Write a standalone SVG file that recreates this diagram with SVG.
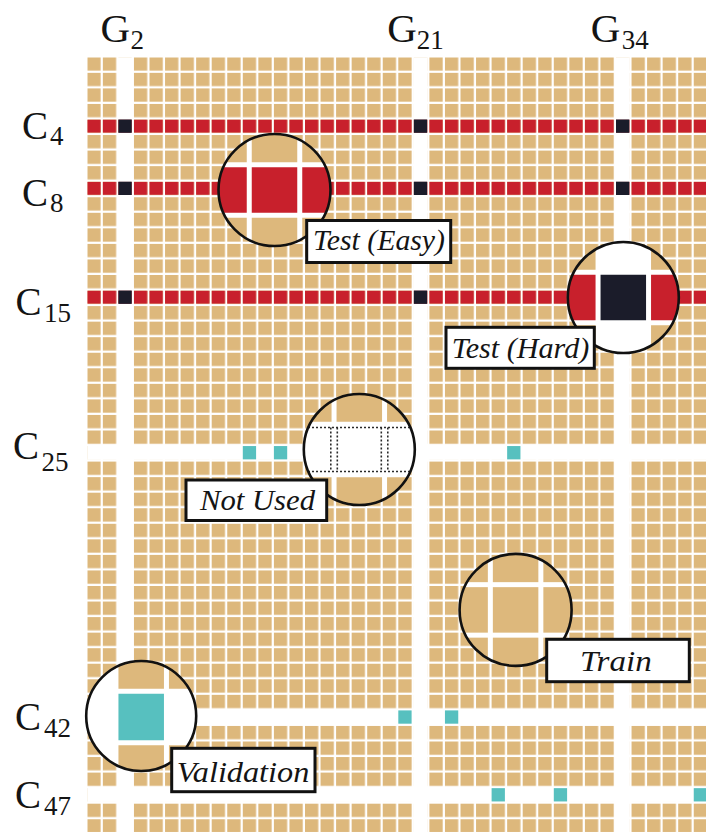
<svg xmlns="http://www.w3.org/2000/svg" width="706" height="832" viewBox="0 0 706 832">
<style>
.ax{font-family:"Liberation Serif","DejaVu Serif",serif;font-size:41px;fill:#141414}
.axc{font-family:"Liberation Serif","DejaVu Serif",serif;font-size:39px;fill:#141414}
.sub{font-family:"Liberation Serif","DejaVu Serif",serif;font-size:27px;fill:#141414}
.lab{font-family:"Liberation Serif","DejaVu Serif",serif;font-style:italic;font-size:30px;fill:#141414}
.box{fill:#fff;stroke:#111;stroke-width:3}
.ring{fill:none;stroke:#111;stroke-width:2.6}
.tan{fill:#DDB87C}
.red{fill:#C8202C}
.blk{fill:#1B1C2A}
.teal{fill:#57C0BF}
.wht{fill:#fff}
.dot{stroke:#2a2a2a;stroke-width:1.6;stroke-dasharray:2 2;fill:none}
</style>
<defs>
<pattern id="pTan" x="87.3" y="57.3" width="15.55" height="15.55" patternUnits="userSpaceOnUse"><rect width="13.3" height="13.3" fill="#DDB87C"/></pattern>
<pattern id="pRed" x="87.3" y="57.3" width="15.55" height="15.55" patternUnits="userSpaceOnUse"><rect width="13.3" height="13.3" fill="#C8202C"/></pattern>
<clipPath id="cEasy"><circle cx="274.5" cy="190" r="56"/></clipPath>
<clipPath id="cHard"><circle cx="623.3" cy="297.5" r="55.5"/></clipPath>
<clipPath id="cNot"><circle cx="359.3" cy="449.5" r="55.5"/></clipPath>
<clipPath id="cTrain"><circle cx="515.6" cy="609.9" r="56"/></clipPath>
<clipPath id="cVal"><circle cx="141.2" cy="716" r="55"/></clipPath>
</defs>
<rect width="706" height="832" fill="#fff"/>

<g id="grid">
<rect x="87.3" y="57.3" width="618.7" height="774.7" fill="url(#pTan)"/>
<rect class="wht" x="117.9" y="57.3" width="14.3" height="774.7"/>
<rect class="wht" x="413.35" y="57.3" width="14.3" height="774.7"/>
<rect class="wht" x="615.5" y="57.3" width="14.3" height="774.7"/>
<rect class="wht" x="87.3" y="445.55" width="618.7" height="14.3"/>
<rect class="wht" x="87.3" y="709.9" width="618.7" height="14.3"/>
<rect class="wht" x="87.3" y="787.65" width="618.7" height="14.3"/>
<rect x="87.3" y="119.5" width="618.7" height="13.3" fill="url(#pRed)"/>
<rect x="87.3" y="181.7" width="618.7" height="13.3" fill="url(#pRed)"/>
<rect x="87.3" y="290.55" width="618.7" height="13.3" fill="url(#pRed)"/>
<rect class="blk" x="118.4" y="119.5" width="13.3" height="13.3"/>
<rect class="blk" x="413.85" y="119.5" width="13.3" height="13.3"/>
<rect class="blk" x="616" y="119.5" width="13.3" height="13.3"/>
<rect class="blk" x="118.4" y="181.7" width="13.3" height="13.3"/>
<rect class="blk" x="413.85" y="181.7" width="13.3" height="13.3"/>
<rect class="blk" x="616" y="181.7" width="13.3" height="13.3"/>
<rect class="blk" x="118.4" y="290.55" width="13.3" height="13.3"/>
<rect class="blk" x="413.85" y="290.55" width="13.3" height="13.3"/>
<rect class="blk" x="616" y="290.55" width="13.3" height="13.3"/>
<rect class="teal" x="242.8" y="446.05" width="13.3" height="13.3"/>
<rect class="teal" x="273.9" y="446.05" width="13.3" height="13.3"/>
<rect class="teal" x="507.15" y="446.05" width="13.3" height="13.3"/>
<rect class="teal" x="398.3" y="710.4" width="13.3" height="13.3"/>
<rect class="teal" x="444.95" y="710.4" width="13.3" height="13.3"/>
<rect class="teal" x="491.6" y="788.15" width="13.3" height="13.3"/>
<rect class="teal" x="553.8" y="788.15" width="13.3" height="13.3"/>
<rect class="teal" x="693.75" y="788.15" width="13.3" height="13.3"/>
</g>

<g id="axis-labels">
<text class="ax" x="100.5" y="42">G</text><text class="sub" x="130.5" y="48.5">2</text>
<text class="ax" x="387.3" y="42">G</text><text class="sub" x="416.7" y="48.5">21</text>
<text class="ax" x="590.7" y="42">G</text><text class="sub" x="621.7" y="48.5">34</text>
<text class="axc" x="22" y="138.5">C</text><text class="sub" x="50" y="145">4</text>
<text class="axc" x="22" y="205.5">C</text><text class="sub" x="50" y="211.7">8</text>
<text class="axc" x="15.5" y="314.5">C</text><text class="sub" x="44" y="321.5">15</text>
<text class="axc" x="13" y="458.5">C</text><text class="sub" x="41.5" y="470.5">25</text>
<text class="axc" x="15" y="729.5">C</text><text class="sub" x="44" y="736.5">42</text>
<text class="axc" x="15" y="807.5">C</text><text class="sub" x="44" y="815">47</text>
</g>

<g id="inset-test-easy">
<g clip-path="url(#cEasy)">
<circle cx="274.5" cy="190" r="56" fill="#fff"/>
<rect class="tan" x="201.25" y="116.75" width="45.5" height="45.5"/>
<rect class="tan" x="251.75" y="116.75" width="45.5" height="45.5"/>
<rect class="tan" x="302.25" y="116.75" width="45.5" height="45.5"/>
<rect class="red" x="201.25" y="167.25" width="45.5" height="45.5"/>
<rect class="red" x="251.75" y="167.25" width="45.5" height="45.5"/>
<rect class="red" x="302.25" y="167.25" width="45.5" height="45.5"/>
<rect class="tan" x="201.25" y="217.75" width="45.5" height="45.5"/>
<rect class="tan" x="251.75" y="217.75" width="45.5" height="45.5"/>
<rect class="tan" x="302.25" y="217.75" width="45.5" height="45.5"/>
</g>
<circle class="ring" cx="274.5" cy="190" r="56"/>
</g>

<g id="inset-test-hard">
<g clip-path="url(#cHard)">
<circle cx="623.3" cy="297.5" r="55.5" fill="#fff"/>
<rect class="tan" x="550.05" y="224.25" width="45.5" height="45.5"/>
<rect class="tan" x="651.05" y="224.25" width="45.5" height="45.5"/>
<rect class="red" x="550.05" y="274.75" width="45.5" height="45.5"/>
<rect class="blk" x="600.55" y="274.75" width="45.5" height="45.5"/>
<rect class="red" x="651.05" y="274.75" width="45.5" height="45.5"/>
<rect class="tan" x="550.05" y="325.25" width="45.5" height="45.5"/>
<rect class="tan" x="651.05" y="325.25" width="45.5" height="45.5"/>
</g>
<circle class="ring" cx="623.3" cy="297.5" r="55.5"/>
</g>

<g id="inset-not-used">
<g clip-path="url(#cNot)">
<circle cx="359.3" cy="449.5" r="55.5" fill="#fff"/>
<rect class="tan" x="286.05" y="376.25" width="45.5" height="45.5"/>
<rect class="tan" x="336.55" y="376.25" width="45.5" height="45.5"/>
<rect class="tan" x="387.05" y="376.25" width="45.5" height="45.5"/>
<rect class="tan" x="286.05" y="477.25" width="45.5" height="45.5"/>
<rect class="tan" x="336.55" y="477.25" width="45.5" height="45.5"/>
<rect class="tan" x="387.05" y="477.25" width="45.5" height="45.5"/>
<line class="dot" x1="300" y1="427.5" x2="420" y2="427.5"/>
<line class="dot" x1="300" y1="471.5" x2="420" y2="471.5"/>
<line class="dot" x1="330.8" y1="427.5" x2="330.8" y2="471.5"/>
<line class="dot" x1="337.3" y1="427.5" x2="337.3" y2="471.5"/>
<line class="dot" x1="381.3" y1="427.5" x2="381.3" y2="471.5"/>
<line class="dot" x1="387.8" y1="427.5" x2="387.8" y2="471.5"/>
</g>
<circle class="ring" cx="359.3" cy="449.5" r="55.5"/>
</g>

<g id="inset-train">
<g clip-path="url(#cTrain)">
<circle cx="515.6" cy="609.9" r="56" fill="#fff"/>
<rect class="tan" x="442.35" y="536.65" width="45.5" height="45.5"/>
<rect class="tan" x="492.85" y="536.65" width="45.5" height="45.5"/>
<rect class="tan" x="543.35" y="536.65" width="45.5" height="45.5"/>
<rect class="tan" x="442.35" y="587.15" width="45.5" height="45.5"/>
<rect class="tan" x="492.85" y="587.15" width="45.5" height="45.5"/>
<rect class="tan" x="543.35" y="587.15" width="45.5" height="45.5"/>
<rect class="tan" x="442.35" y="637.65" width="45.5" height="45.5"/>
<rect class="tan" x="492.85" y="637.65" width="45.5" height="45.5"/>
<rect class="tan" x="543.35" y="637.65" width="45.5" height="45.5"/>
</g>
<circle class="ring" cx="515.6" cy="609.9" r="56"/>
</g>

<g id="inset-validation">
<g clip-path="url(#cVal)">
<circle cx="141.2" cy="716" r="55" fill="#fff"/>
<rect class="tan" x="118.45" y="643.25" width="45.5" height="45.5"/>
<rect class="tan" x="168.95" y="643.25" width="45.5" height="45.5"/>
<rect class="teal" x="118.45" y="693.75" width="45.5" height="46.5"/>
<rect class="tan" x="118.45" y="745.25" width="45.5" height="45.5"/>
<rect class="tan" x="168.95" y="745.25" width="45.5" height="45.5"/>
</g>
<circle class="ring" cx="141.2" cy="716" r="55"/>
</g>

<g id="label-test-easy">
<rect class="box" x="306.7" y="220.5" width="144" height="42"/>
<text class="lab" x="313" y="249.5" textLength="132" lengthAdjust="spacingAndGlyphs">Test (Easy)</text>
</g>
<g id="label-test-hard">
<rect class="box" x="446" y="327.3" width="148.3" height="41"/>
<text class="lab" x="451.7" y="358" textLength="137.6" lengthAdjust="spacingAndGlyphs">Test (Hard)</text>
</g>
<g id="label-not-used">
<rect class="box" x="186" y="480" width="140.7" height="40.5"/>
<text class="lab" x="200" y="510" textLength="115" lengthAdjust="spacingAndGlyphs">Not Used</text>
</g>
<g id="label-train">
<rect class="box" x="546.7" y="639.3" width="142.6" height="42.4"/>
<text class="lab" x="580" y="670.5" textLength="71.7" lengthAdjust="spacingAndGlyphs">Train</text>
</g>
<g id="label-validation">
<rect class="box" x="171.7" y="748.3" width="143.3" height="43.4"/>
<text class="lab" x="176.7" y="781.5" textLength="132.6" lengthAdjust="spacingAndGlyphs">Validation</text>
</g>
<g id="connectors"/>
</svg>
